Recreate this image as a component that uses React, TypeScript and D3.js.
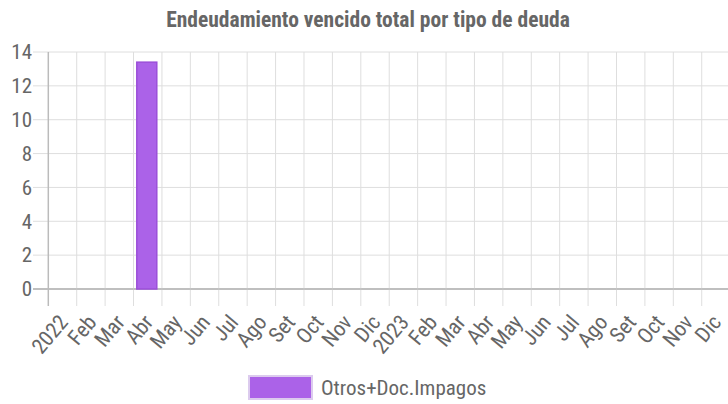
import React from "react";
import * as d3 from "d3";

const monthLabels = ["2022","Feb","Mar","Abr","May","Jun","Jul","Ago","Set","Oct","Nov","Dic","2023","Feb","Mar","Abr","May","Jun","Jul","Ago","Set","Oct","Nov","Dic"];
const seriesName = "Otros+Doc.Impagos";
const barDates = ["2022-04-15"];
const barValues = [13.4];
const yTicks = [0, 2, 4, 6, 8, 10, 12, 14];

const W = 728, H = 404;
const FONT = "'Liberation Sans Narrow', 'Arial Narrow', 'Roboto Condensed', 'Liberation Sans', sans-serif";
const TXT = "#666";

function monthPos(s: string) {
  const d = new Date(s + "T00:00:00Z");
  const y = d.getUTCFullYear(), m = d.getUTCMonth(), day = d.getUTCDate();
  const dim = new Date(Date.UTC(y, m + 1, 0)).getUTCDate();
  return (y - 2022) * 12 + m + (day - 1) / dim;
}

export default function App() {
  const left = 48.3, step = 28.41;
  const x = d3.scaleLinear().domain([0, 24]).range([left, left + 24 * step]);
  const y = d3.scaleLinear().domain([0, 14]).range([289, 52]);
  const barW = 20;
  return (
    <svg width={W} height={H} style={{ position: "absolute", left: 0, top: 0 }}>
      <text x={368} y={27} textAnchor="middle" fontFamily={FONT} fontWeight="bold" fontSize={21.5} fill={TXT}>
        Endeudamiento vencido total por tipo de deuda
      </text>
      {yTicks.map((t) => (
        <g key={"y" + t}>
          <line x1={33} x2={W} y1={y(t)} y2={y(t)} stroke={t === 0 ? "#bbb" : "#dedede"} strokeWidth={t === 0 ? 1.5 : 1} />
          <text x={32} y={y(t)} dy="0.35em" textAnchor="end" fontFamily={FONT} fontSize={21} fill={TXT}>{t}</text>
        </g>
      ))}
      {monthLabels.map((lab, i) => (
        <g key={"x" + i}>
          <line x1={x(i)} x2={x(i)} y1={52} y2={306} stroke={i === 0 ? "#bbb" : "#dedede"} strokeWidth={i === 0 ? 1.5 : 1} />
          <text transform={`translate(${x(i) + 15},${318}) rotate(-50)`} textAnchor="end" dy="0.35em" fontFamily={FONT} fontSize={21.5} fill={TXT}>{lab}</text>
        </g>
      ))}
      <line x1={33} x2={W} y1={y(0)} y2={y(0)} stroke="#bbb" strokeWidth={1.5} />
      {barDates.map((d, i) => {
        const cx = x(monthPos(d));
        return (
          <rect key={"b" + i} x={cx - barW / 2} y={y(barValues[i])} width={barW} height={y(0) - y(barValues[i])}
            fill="#ab62e8" stroke="#9b4fd9" strokeWidth={1.5} />
        );
      })}
      <rect x={249} y={376} width={63} height={23} fill="#ab62e8" stroke="#dccbee" strokeWidth={2} />
      <text x={321} y={388} dy="0.35em" fontFamily={FONT} fontSize={21} fill={TXT}>{seriesName}</text>
    </svg>
  );
}
